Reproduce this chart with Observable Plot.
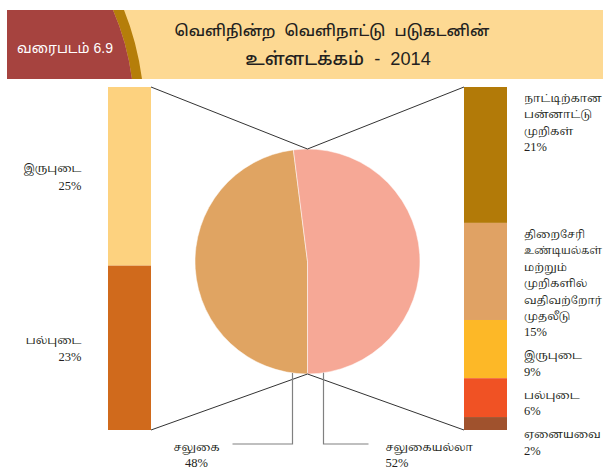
<!DOCTYPE html>
<html><head><meta charset="utf-8">
<script src="https://cdn.jsdelivr.net/npm/d3@7"></script>
<script src="https://cdn.jsdelivr.net/npm/@observablehq/plot@0.6"></script>
<style>
body{margin:0;background:#fff;}
#header svg,#chart svg{display:block;}
</style></head><body>
<div id="header"></div>
<div id="chart"></div>
<script>
// ---- data ----
const figureLabel = "வரைபடம் 6.9";
const titleLines = ["வெளிநின்ற வெளிநாட்டு படுகடனின்", "உள்ளடக்கம் - 2014"];

const pieCats = ["சலுகை", "சலுகையல்லா"];
const pieValues = [48, 52];
const pieLabels = ["48%", "52%"];
const pieColors = ["#E0A462", "#F6A896"];

const concCats = ["இருபுடை", "பல்புடை"];
const concValues = [25, 23];
const concLabels = ["25%", "23%"];
const concColors = ["#FDD27F", "#D06A1C"];

const nonConcCats = ["நாட்டிற்கான\nபன்னாட்டு\nமுறிகள்", "திறைசேரி\nஉண்டியல்கள்\nமற்றும்\nமுறிகளில்\nவதிவற்றோர்\nமுதலீடு", "இருபுடை", "பல்புடை", "ஏனையவை"];
const nonConcValues = [21, 15, 9, 6, 2];
const nonConcLabels = ["21%", "15%", "9%", "6%", "2%"];
const nonConcColors = ["#B27A08", "#E0A264", "#FDB827", "#F05224", "#A0522D"];

const labelFont = "'Liberation Serif', 'Noto Serif Tamil', 'Noto Sans Tamil', 'Lohit Tamil', serif";
const titleFont = "'Liberation Sans Narrow', 'Liberation Sans', 'Noto Sans Tamil', 'Lohit Tamil', sans-serif";
const tamilSize = 11, numSize = 12.5;

// fit a text element's natural width into maxW by lowering its font size
function fitText(node, size, maxW) {
  node.setAttribute("font-size", size);
  const w = node.getComputedTextLength();
  if (w > maxW) node.setAttribute("font-size", (size * maxW / w).toFixed(2));
}

// ---- header (decorative band) ----
const hs = d3.select("#header").append("svg").attr("width", 603).attr("height", 80);
hs.append("rect").attr("x", 7).attr("y", 10).attr("width", 596).attr("height", 69).attr("fill", "#FDD993");
hs.append("path").attr("d", "M113,10 L124,10 Q137,42 142,79 L132,79 Q127,42 113,10 Z").attr("fill", "#B57E0A");
hs.append("path").attr("d", "M7,10 L113,10 Q127,42 132,79 L7,79 Z").attr("fill", "#A6433F");
const fig = hs.append("text").attr("x", 65).attr("y", 53).attr("text-anchor", "middle")
  .attr("fill", "#fff").attr("font-family", titleFont).text(figureLabel);
fitText(fig.node(), 21, 96);
const titleCx = [332, 338], titleW = [312, 184];
titleLines.forEach((t, i) => {
  const el = hs.append("text").attr("x", titleCx[i]).attr("y", 36 + i * 29).attr("text-anchor", "middle")
    .attr("fill", "#231f20").attr("font-family", titleFont).attr("font-weight", 500)
    .style("word-spacing", "5px").text(t);
  fitText(el.node(), 22, titleW[i]);
});

// ---- tables ----
const pieRows = pieCats.map((c, i) => ({cat: c, value: pieValues[i], label: pieLabels[i], color: pieColors[i]}));
const concRows = concCats.map((c, i) => ({group: pieCats[0], cat: c, value: concValues[i], label: concLabels[i], color: concColors[i]}));
const nonConcRows = nonConcCats.map((c, i) => ({group: pieCats[1], cat: c, value: nonConcValues[i], label: nonConcLabels[i], color: nonConcColors[i]}));
const barRows = concRows.concat(nonConcRows);

function overlay(index, scales, values, dims) {
  const xs = scales.x, ys = scales.y;
  const bw = typeof xs.bandwidth === "function" ? xs.bandwidth() : 43;
  const cx = xs("pie") + bw / 2;
  const yTop = ys(1), yBot = ys(0);
  const cy = (yTop + yBot) / 2 + 3;
  const r = 112.5;
  const g = d3.create("svg:g");
  // pie
  const arcs = d3.pie().sort(null).value(d => d.value).startAngle(Math.PI).endAngle(3 * Math.PI)(pieRows);
  const arc = d3.arc().innerRadius(0).outerRadius(r);
  g.append("g").attr("transform", `translate(${cx},${cy})`)
    .selectAll("path").data(arcs).join("path")
    .attr("d", arc).attr("fill", d => d.data.color).attr("stroke", "#fff").attr("stroke-width", 0.5);
  // connectors
  const lx = xs(pieCats[0]) + bw, rx = xs(pieCats[1]);
  const conn = [[lx, yTop, cx, cy - r], [lx, yBot, cx, cy + r], [rx, ys(1), cx, cy - r], [rx, ys(0), cx, cy + r]];
  g.append("g").selectAll("line").data(conn).join("line")
    .attr("x1", d => d[0]).attr("y1", d => d[1]).attr("x2", d => d[2]).attr("y2", d => d[3])
    .attr("stroke", "#333").attr("stroke-width", 1);
  // pie callouts
  const calloutY = cy + r + 70;
  const offs = [-15, 16];
  const hor = [-60, 45];
  pieRows.forEach((d, i) => {
    const vx = cx + offs[i];
    const vy = cy + Math.sqrt(r * r - offs[i] * offs[i]);
    g.append("path").attr("d", `M${vx},${vy} V${calloutY} H${vx + hor[i]}`)
      .attr("fill", "none").attr("stroke", "#808080").attr("stroke-width", 1.2);
    const t = g.append("text").attr("font-family", labelFont).attr("fill", "#231f20")
      .attr("text-anchor", i === 0 ? "middle" : "start");
    const tx = i === 0 ? vx + hor[i] - 36 : vx + hor[i] + 17;
    t.append("tspan").attr("x", tx).attr("y", calloutY + 7).attr("font-size", tamilSize).text(d.cat);
    t.append("tspan").attr("x", tx).attr("y", calloutY + 23).attr("font-size", numSize).text(d.label);
  });
  // right bar labels (top aligned, pushed down to avoid overlap)
  const lh = 16.4;
  const total = d3.sum(nonConcRows, d => d.value);
  let cum = 0, prevLast = -Infinity;
  nonConcRows.forEach(d => {
    const segTop = ys(1 - cum / total);
    cum += d.value;
    const names = d.cat.split("\n");
    const first = Math.max(segTop + 15, prevLast + 23);
    const t = g.append("text").attr("class", "rlab").attr("font-family", labelFont)
      .attr("fill", "#231f20").attr("text-anchor", "start");
    names.forEach((s, k) => t.append("tspan").attr("class", "tam").attr("x", rx + bw + 17)
      .attr("y", first + k * lh).attr("font-size", tamilSize).text(s));
    t.append("tspan").attr("x", rx + bw + 17).attr("y", first + names.length * lh)
      .attr("font-size", numSize).text(d.label);
    prevLast = first + names.length * lh;
  });
  return g.node();
}

const chart = Plot.plot({
  width: 603, height: 390,
  marginTop: 7, marginBottom: 40, marginLeft: 107, marginRight: 96,
  x: {type: "band", domain: [pieCats[0], "pie", pieCats[1]], paddingInner: 0.759, paddingOuter: 0, axis: null},
  y: {domain: [0, 1], axis: null},
  marks: [
    Plot.barY(barRows, Plot.stackY({x: "group", y: "value", fill: "color", offset: "normalize", reverse: true})),
    Plot.text(concRows, Plot.stackY({x: "group", y: "value", offset: "normalize", reverse: true,
      text: "cat", textAnchor: "end", dx: -48.5, dy: -8, fontSize: tamilSize,
      fontFamily: labelFont, fill: "#231f20"})),
    Plot.text(concRows, Plot.stackY({x: "group", y: "value", offset: "normalize", reverse: true,
      text: "label", textAnchor: "end", dx: -48.5, dy: 9, fontSize: numSize,
      fontFamily: labelFont, fill: "#231f20"})),
    overlay
  ]
});
document.getElementById("chart").appendChild(chart);
// keep right-hand labels inside the page
chart.querySelectorAll(".rlab .tam").forEach(ts => {
  const w = ts.getComputedTextLength();
  if (w > 78) ts.setAttribute("font-size", (tamilSize * 78 / w).toFixed(2));
});
</script></body></html>
